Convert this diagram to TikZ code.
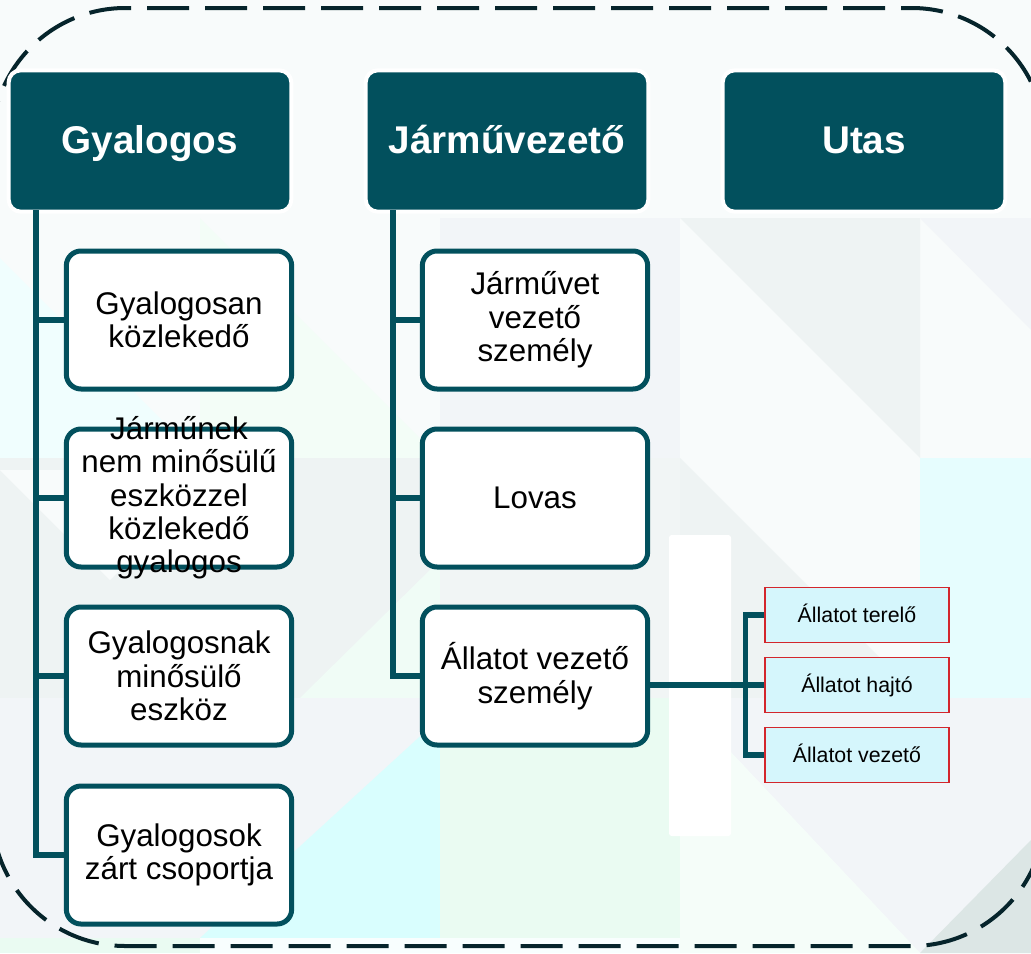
\documentclass[tikz,border=0pt]{standalone}
\usepackage{fontspec}
\setmainfont{Liberation Sans}
\definecolor{petrol}{HTML}{02505D}
\definecolor{frame}{HTML}{06242B}
\definecolor{boxcyan}{HTML}{D5F6FC}
\definecolor{boxred}{HTML}{D3262C}
\definecolor{bgbase}{HTML}{F8FBFB}
\definecolor{bggray}{HTML}{EEF3F3}
\definecolor{bgblue}{HTML}{F2F5F8}
\definecolor{bgcyan}{HTML}{E6FDFE}
\definecolor{bgdeep}{HTML}{D9FEFE}
\definecolor{bgmint}{HTML}{EAFBF2}
\definecolor{bgdark}{HTML}{DCE6E5}

\begin{document}
\begin{tikzpicture}[x=0.75pt,y=-0.75pt]
	\tikzstyle{head} = [draw=white, line width=3pt, fill=petrol, rounded corners=9pt,
		minimum width=212pt, minimum height=106pt, text=white,
		text height=21pt, text depth=2.5pt,
		font=\bfseries\fontsize{29}{34}\selectfont]
	\tikzstyle{child} = [draw=petrol, line width=3.75pt, fill=white, rounded corners=11pt,
		minimum width=169pt, minimum height=103.5pt]
	\tikzstyle{childtxt} = [align=center, inner sep=0, font=\fontsize{23.5}{25}\selectfont]
	\tikzstyle{small} = [draw=boxred, line width=1pt, fill=boxcyan,
		minimum width=138pt, minimum height=41.5pt,
		text height=11.5pt, text depth=0pt, font=\fontsize{16}{19}\selectfont]
	\tikzstyle{conn} = [draw=petrol, line width=4pt]

	\useasboundingbox (0,0) rectangle (1031,953);

	% background tiles
	\fill[bgbase] (0,0) rectangle (1031,953);
	\fill[bgcyan!60!white] (0,258) -- (200,458) -- (0,458) -- cycle;
	\fill[bgmint!60!white] (200,218) -- (440,458) -- (200,458) -- cycle;
	\fill[bgblue] (440,218) rectangle (680,458);
	\fill[bggray] (0,458) rectangle (440,698);
	\fill[bgbase] (0,470) -- (110,580) -- (220,470) -- cycle;
	\fill[bgmint!70!white] (440,698) -- (440,560) -- (300,698) -- cycle;
	\fill[bggray!80!white] (440,458) rectangle (680,698);
	\fill[bggray] (680,218) -- (920,218) -- (920,458) -- cycle;
	\fill[bggray] (680,458) -- (680,698) -- (920,698) -- cycle;
	\fill[bgblue] (920,218) -- (1031,218) -- (1031,330) -- cycle;
	\fill[bgcyan] (920,458) rectangle (1031,698);
	\fill[bgblue] (680,698) -- (1031,698) -- (1031,953) -- (920,953) -- cycle;
	\fill[bgmint!50!white] (680,698) -- (920,953) -- (680,953) -- cycle;
	\fill[bgblue] (0,698) rectangle (440,938);
	\fill[bgdeep] (440,718) -- (200,938) -- (440,938) -- cycle;
	\fill[bgmint] (440,698) rectangle (680,938);
	\fill[bgblue!70!cyan!8] (200,938) rectangle (680,953);
	\fill[bgmint] (0,938) rectangle (200,953);
	\fill[bgdark] (1031,840) -- (1031,953) -- (920,953) -- cycle;
	\fill[white, rounded corners=2pt] (669,535) rectangle (731,836);

	% dashed frame
	\draw[frame, line width=3pt, dash pattern=on 31.5pt off 12pt, rounded corners=100pt]
		(-8,8) rectangle (1045,946);

	% headers
	\node[head] (gy) at (150,141) {Gyalogos};
	\node[head] (jv) at (507,141) {Járművezető};
	\node[head] (ut) at (864,141) {Utas};

	% Gyalogos column
	\node[child, label={[childtxt]center:{Gyalogosan\\közlekedő}}] (g1) at (179,320) {};
	\node[child, label={[childtxt]center:{Járműnek\\nem minősülű\\eszközzel\\közlekedő\\gyalogos}}] (g2) at (179,498) {};
	\node[child, label={[childtxt]center:{Gyalogosnak\\minősülő\\eszköz}}] (g3) at (179,676) {};
	\node[child, label={[childtxt]center:{Gyalogosok\\zárt csoportja}}] (g4) at (179,855) {};

	% Jarmuvezeto column
	\node[child, label={[childtxt]center:{Járművet\\vezető\\személy}}] (j1) at (535,320) {};
	\node[child, label={[childtxt]center:{Lovas}}] (j2) at (535,498) {};
	\node[child, label={[childtxt]center:{Állatot vezető\\személy}}] (j3) at (535,676) {};

	% allatot vezeto
	\node[small] (a1) at (857,615) {Állatot terelő};
	\node[small] (a2) at (857,685) {Állatot hajtó};
	\node[small] (a3) at (857,755) {Állatot vezető};

	\coordinate (gtop) at (36,210);
	\coordinate (jtop) at (393,210);
	\draw[conn] (gtop) |- (g4.west);
	\foreach \n in {g1,g2,g3} {
		\draw[conn] (\n.west) -- (\n.west -| gtop);
	}
	\draw[conn] (jtop) |- (j3.west);
	\foreach \n in {j1,j2} {
		\draw[conn] (\n.west) -- (\n.west -| jtop);
	}
	\draw[conn] (a2.west) -- (a2.west -| j3.east);
	\draw[conn] (a1.west) -- ++(-19,0) |- (a3.west);

\end{tikzpicture}
\end{document}
